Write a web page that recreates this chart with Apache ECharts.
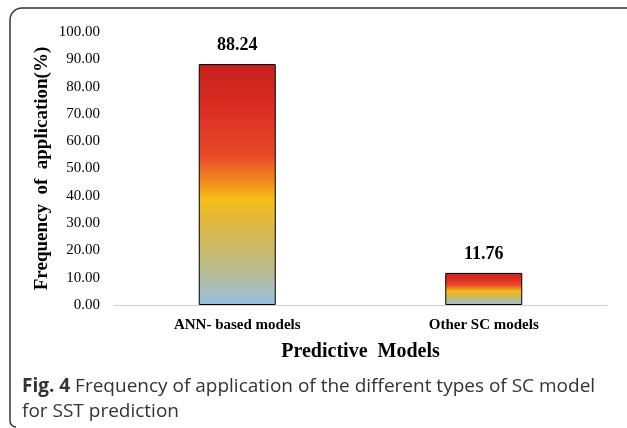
<!DOCTYPE html>
<html>
<head>
<meta charset="utf-8">
<script src="https://cdn.jsdelivr.net/npm/echarts@6/dist/echarts.min.js"></script>
<style>
html,body{margin:0;padding:0;background:#fff;overflow:hidden;}
#c{width:627px;height:428px;}
</style>
</head>
<body>
<div id="c"></div>
<script>
var categories = ['ANN- based models', 'Other SC models'];
var values = [88.24, 11.76];
var yTicks = [0, 10, 20, 30, 40, 50, 60, 70, 80, 90, 100];

var chart = echarts.init(document.getElementById('c'), null, {renderer: 'canvas'});
var grad = new echarts.graphic.LinearGradient(0, 0, 0, 1, [
  {offset: 0, color: '#c6201b'},
  {offset: 0.2, color: '#dc2f24'},
  {offset: 0.38, color: '#e84a28'},
  {offset: 0.48, color: '#f2861f'},
  {offset: 0.56, color: '#f5bd18'},
  {offset: 0.68, color: '#dcb846'},
  {offset: 0.84, color: '#bcbc88'},
  {offset: 1, color: '#98c0e2'}
]);
var frameStyle = {fill: null, stroke: '#333', lineWidth: 1.5};
var option = {
  animation: false,
  title: {
    left: 17, top: 369,
    text: '{b|Fig. 4} Frequency of application of the different types of SC model\nfor SST prediction',
    textStyle: {
      fontFamily: 'Open Sans', fontSize: 19, fontWeight: 'normal', color: '#333', lineHeight: 25,
      rich: {b: {fontFamily: 'Open Sans', fontSize: 19, fontWeight: 'bold', color: '#333', lineHeight: 25}}
    }
  },
  grid: {left: 114, right: 20, top: 32, bottom: 123},
  xAxis: {
    type: 'category',
    data: categories,
    name: 'Predictive  Models',
    nameLocation: 'middle',
    nameGap: 37,
    nameMoveOverlap: false,
    nameTextStyle: {fontFamily: 'Liberation Serif', fontSize: 20, fontWeight: 'bold', color: '#000'},
    axisLine: {lineStyle: {color: '#d0d0d0', width: 1}},
    axisTick: {show: false},
    axisLabel: {fontFamily: 'Liberation Serif', fontSize: 15, fontWeight: 'bold', color: '#000', margin: 13}
  },
  yAxis: {
    type: 'value',
    min: yTicks[0], max: yTicks[yTicks.length - 1], interval: 10,
    name: 'Frequency  of  application(%)',
    nameLocation: 'middle',
    nameGap: 62,
    nameMoveOverlap: false,
    nameTextStyle: {fontFamily: 'Liberation Serif', fontSize: 19, fontWeight: 'bold', color: '#000'},
    axisLine: {show: false},
    axisTick: {show: false},
    splitLine: {show: false},
    axisLabel: {fontFamily: 'Liberation Serif', fontSize: 15, color: '#000', margin: 14,
      formatter: function (v) { return v.toFixed(2); }}
  },
  series: [{
    type: 'bar',
    data: values,
    barWidth: 77,
    itemStyle: {color: grad, borderColor: '#000', borderWidth: 1},
    label: {show: true, position: 'top', distance: 10,
      fontFamily: 'Liberation Serif', fontSize: 18, fontWeight: 'bold', color: '#000',
      formatter: function (p) { return p.value.toFixed(2); }}
  }],
  graphic: [
    {type: 'polyline', shape: {points: [[627, 8], [22, 8]]}, style: frameStyle},
    {type: 'arc', shape: {cx: 22, cy: 20, r: 12, startAngle: Math.PI, endAngle: Math.PI * 1.5}, style: frameStyle},
    {type: 'polyline', shape: {points: [[10, 20], [10, 421]]}, style: frameStyle},
    {type: 'arc', shape: {cx: 16, cy: 421, r: 6, startAngle: Math.PI * 0.5, endAngle: Math.PI}, style: frameStyle}
  ]
};
chart.setOption(option);
</script>
</body>
</html>
